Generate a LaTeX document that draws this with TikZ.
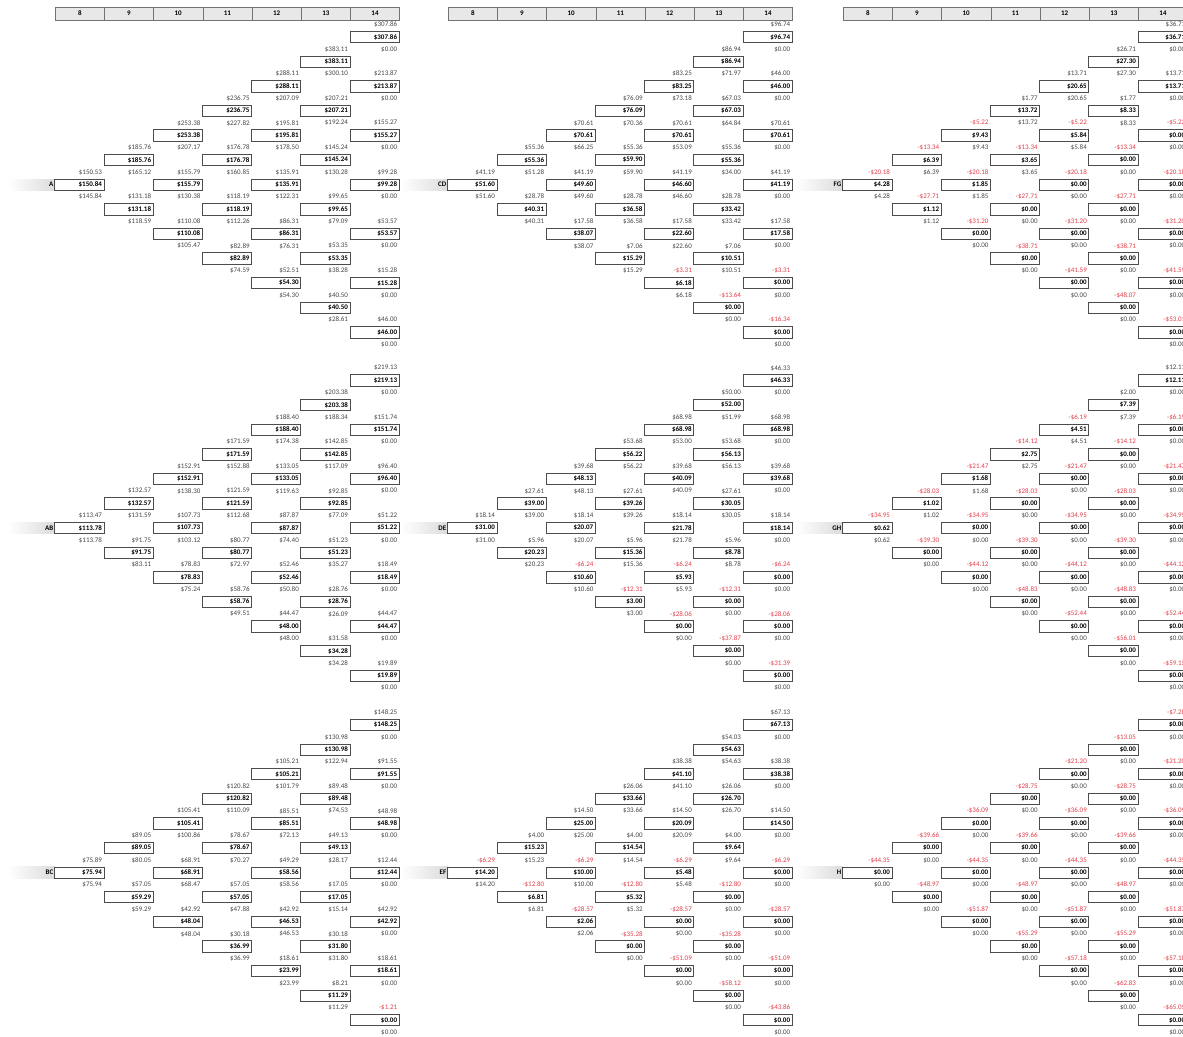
\documentclass[tikz,border=0pt]{standalone}
\usepackage{fontspec}
\setmainfont{Carlito}
\definecolor{negred}{RGB}{226,62,74}
\definecolor{txtgray}{RGB}{70,70,70}
\definecolor{hdrfill}{RGB}{232,232,232}
\tikzset{
 valbox/.style={draw=black!70, line width=0.7pt, anchor=east, minimum width=49.2pt, minimum height=11.3pt, inner xsep=2pt, inner ysep=0pt, text width=45.2pt, align=right, font=\fontsize{7}{7.5}\selectfont\bfseries},
 valtxt/.style={anchor=east, inner xsep=2pt, inner ysep=0pt, font=\fontsize{7}{7.5}\selectfont, text=txtgray},
 negtxt/.style={valtxt, text=negred},
 hdrcell/.style={draw=black!55, fill=hdrfill, minimum width=49.2pt, minimum height=13pt, inner sep=0pt, anchor=west, font=\fontsize{7}{7.5}\selectfont\bfseries},
 lbl/.style={anchor=east, inner sep=1.5pt, font=\fontsize{7}{7.5}\selectfont\bfseries}
}
\newcommand\PX{0}\newcommand\PY{0}\newcommand\PN{p}
\newcommand{\nd}[5]{%
 \pgfmathsetmacro\bx{\PX+(#1+1)*49.2}%
 \pgfmathsetmacro\by{\PY+(4*#2-2*#1)*12.3}%
 \node[valbox] (\PN#1#2) at (\bx,\by) {\$#4};
 \node[valtxt] (\PN#1#2t) at (\bx,\by-12.3) {\$#3};
 \node[valtxt] (\PN#1#2b) at (\bx,\by+12.3) {\$#5};}
\newcommand{\nr}[5]{%
 \pgfmathsetmacro\bx{\PX+(#1+1)*49.2}%
 \pgfmathsetmacro\by{\PY+(4*#2-2*#1)*12.3}%
 \node[valbox] (\PN#1#2) at (\bx,\by) {\$#4};
 \node[negtxt] (\PN#1#2t) at (\bx,\by-12.3) {-\$#3};
 \node[valtxt] (\PN#1#2b) at (\bx,\by+12.3) {\$#5};}
\newcommand{\nz}[3]{\nr{#1}{#2}{#3}{0.00}{0.00}}
\newcommand{\panel}[4]{% x0, y0, name, label
 \renewcommand\PX{#1}\renewcommand\PY{#2}\renewcommand\PN{#3}%
 \shade[left color=white, right color=black!14] (#1-47,#2-5.6) rectangle (#1,#2+5.6);
 \node[lbl] (lab#3) at (#1,#2) {#4};}
\newcommand{\header}[2]{% x0, name
 \foreach \i in {0,...,6}{%
  \pgfmathtruncatemacro\lab{8+\i}%
  \node[hdrcell] (hdr#2\i) at (#1+\i*49.2,13.5) {\lab};}}
\begin{document}
\begin{tikzpicture}[x=1pt,y=-1pt]
\useasboundingbox (0,0) rectangle (1183,1036);
\fill[white] (0,0) rectangle (1183,1036);
\header{55}{a}
\header{448}{d}
\header{843}{g}
% ---------------- Panel A
\panel{55}{184.6}{a}{A}
\nd{0}{0}{150.53}{150.84}{145.84}
\nd{1}{0}{185.76}{185.76}{165.12}
\nd{1}{1}{131.18}{131.18}{118.59}
\nd{2}{0}{253.38}{253.38}{207.17}
\nd{2}{1}{155.79}{155.79}{130.38}
\nd{2}{2}{110.08}{110.08}{105.47}
\nd{3}{0}{236.75}{236.75}{227.82}
\nd{3}{1}{176.78}{176.78}{160.85}
\nd{3}{2}{118.19}{118.19}{112.26}
\nd{3}{3}{82.89}{82.89}{74.59}
\nd{4}{0}{288.11}{288.11}{207.09}
\nd{4}{1}{195.81}{195.81}{178.50}
\nd{4}{2}{135.91}{135.91}{122.31}
\nd{4}{3}{86.31}{86.31}{76.31}
\nd{4}{4}{52.51}{54.30}{54.30}
\nd{5}{0}{383.11}{383.11}{300.10}
\nd{5}{1}{207.21}{207.21}{192.24}
\nd{5}{2}{145.24}{145.24}{130.28}
\nd{5}{3}{99.65}{99.65}{79.09}
\nd{5}{4}{53.35}{53.35}{38.28}
\nd{5}{5}{40.50}{40.50}{28.61}
\nd{6}{0}{307.86}{307.86}{0.00}
\nd{6}{1}{213.87}{213.87}{0.00}
\nd{6}{2}{155.27}{155.27}{0.00}
\nd{6}{3}{99.28}{99.28}{0.00}
\nd{6}{4}{53.57}{53.57}{0.00}
\nd{6}{5}{15.28}{15.28}{0.00}
\nd{6}{6}{46.00}{46.00}{0.00}
% ---------------- Panel AB
\panel{55}{528}{b}{AB}
\nd{0}{0}{113.47}{113.78}{113.78}
\nd{1}{0}{132.57}{132.57}{131.59}
\nd{1}{1}{91.75}{91.75}{83.11}
\nd{2}{0}{152.91}{152.91}{138.30}
\nd{2}{1}{107.73}{107.73}{103.12}
\nd{2}{2}{78.83}{78.83}{75.24}
\nd{3}{0}{171.59}{171.59}{152.88}
\nd{3}{1}{121.59}{121.59}{112.68}
\nd{3}{2}{80.77}{80.77}{72.97}
\nd{3}{3}{58.76}{58.76}{49.51}
\nd{4}{0}{188.40}{188.40}{174.38}
\nd{4}{1}{133.05}{133.05}{119.63}
\nd{4}{2}{87.87}{87.87}{74.40}
\nd{4}{3}{52.46}{52.46}{50.80}
\nd{4}{4}{44.47}{48.00}{48.00}
\nd{5}{0}{203.38}{203.38}{188.34}
\nd{5}{1}{142.85}{142.85}{117.09}
\nd{5}{2}{92.85}{92.85}{77.09}
\nd{5}{3}{51.23}{51.23}{35.27}
\nd{5}{4}{28.76}{28.76}{26.09}
\nd{5}{5}{31.58}{34.28}{34.28}
\nd{6}{0}{219.13}{219.13}{0.00}
\nd{6}{1}{151.74}{151.74}{0.00}
\nd{6}{2}{96.40}{96.40}{0.00}
\nd{6}{3}{51.22}{51.22}{0.00}
\nd{6}{4}{18.49}{18.49}{0.00}
\nd{6}{5}{44.47}{44.47}{0.00}
\nd{6}{6}{19.89}{19.89}{0.00}
% ---------------- Panel BC
\panel{55}{872.5}{c}{BC}
\nd{0}{0}{75.89}{75.94}{75.94}
\nd{1}{0}{89.05}{89.05}{80.05}
\nd{1}{1}{57.05}{59.29}{59.29}
\nd{2}{0}{105.41}{105.41}{100.86}
\nd{2}{1}{68.91}{68.91}{68.47}
\nd{2}{2}{42.92}{48.04}{48.04}
\nd{3}{0}{120.82}{120.82}{110.09}
\nd{3}{1}{78.67}{78.67}{70.27}
\nd{3}{2}{57.05}{57.05}{47.88}
\nd{3}{3}{30.18}{36.99}{36.99}
\nd{4}{0}{105.21}{105.21}{101.79}
\nd{4}{1}{85.51}{85.51}{72.13}
\nd{4}{2}{49.29}{58.56}{58.56}
\nd{4}{3}{42.92}{46.53}{46.53}
\nd{4}{4}{18.61}{23.99}{23.99}
\nd{5}{0}{130.98}{130.98}{122.94}
\nd{5}{1}{89.48}{89.48}{74.53}
\nd{5}{2}{49.13}{49.13}{28.17}
\nd{5}{3}{17.05}{17.05}{15.14}
\nd{5}{4}{30.18}{31.80}{31.80}
\nd{5}{5}{8.21}{11.29}{11.29}
\nd{6}{0}{148.25}{148.25}{0.00}
\nd{6}{1}{91.55}{91.55}{0.00}
\nd{6}{2}{48.98}{48.98}{0.00}
\nd{6}{3}{12.44}{12.44}{0.00}
\nd{6}{4}{42.92}{42.92}{0.00}
\nd{6}{5}{18.61}{18.61}{0.00}
\nr{6}{6}{1.21}{0.00}{0.00}
% ---------------- Panel CD
\panel{448}{184.6}{d}{CD}
\nd{0}{0}{41.19}{51.60}{51.60}
\nd{1}{0}{55.36}{55.36}{51.28}
\nd{1}{1}{28.78}{40.31}{40.31}
\nd{2}{0}{70.61}{70.61}{66.25}
\nd{2}{1}{41.19}{49.60}{49.60}
\nd{2}{2}{17.58}{38.07}{38.07}
\nd{3}{0}{76.09}{76.09}{70.36}
\nd{3}{1}{55.36}{59.90}{59.90}
\nd{3}{2}{28.78}{36.58}{36.58}
\nd{3}{3}{7.06}{15.29}{15.29}
\nd{4}{0}{83.25}{83.25}{73.18}
\nd{4}{1}{70.61}{70.61}{53.09}
\nd{4}{2}{41.19}{46.60}{46.60}
\nd{4}{3}{17.58}{22.60}{22.60}
\nr{4}{4}{3.31}{6.18}{6.18}
\nd{5}{0}{86.94}{86.94}{71.97}
\nd{5}{1}{67.03}{67.03}{64.84}
\nd{5}{2}{55.36}{55.36}{34.00}
\nd{5}{3}{28.78}{33.42}{33.42}
\nd{5}{4}{7.06}{10.51}{10.51}
\nz{5}{5}{13.64}
\nd{6}{0}{96.74}{96.74}{0.00}
\nd{6}{1}{46.00}{46.00}{0.00}
\nd{6}{2}{70.61}{70.61}{0.00}
\nd{6}{3}{41.19}{41.19}{0.00}
\nd{6}{4}{17.58}{17.58}{0.00}
\nz{6}{5}{3.31}
\nz{6}{6}{16.34}
% ---------------- Panel DE
\panel{448}{528}{e}{DE}
\nd{0}{0}{18.14}{31.00}{31.00}
\nd{1}{0}{27.61}{39.00}{39.00}
\nd{1}{1}{5.96}{20.23}{20.23}
\nd{2}{0}{39.68}{48.13}{48.13}
\nd{2}{1}{18.14}{20.07}{20.07}
\nr{2}{2}{6.24}{10.60}{10.60}
\nd{3}{0}{53.68}{56.22}{56.22}
\nd{3}{1}{27.61}{39.26}{39.26}
\nd{3}{2}{5.96}{15.36}{15.36}
\nr{3}{3}{12.31}{3.00}{3.00}
\nd{4}{0}{68.98}{68.98}{53.00}
\nd{4}{1}{39.68}{40.09}{40.09}
\nd{4}{2}{18.14}{21.78}{21.78}
\nr{4}{3}{6.24}{5.93}{5.93}
\nz{4}{4}{28.06}
\nd{5}{0}{50.00}{52.00}{51.99}
\nd{5}{1}{53.68}{56.13}{56.13}
\nd{5}{2}{27.61}{30.05}{30.05}
\nd{5}{3}{5.96}{8.78}{8.78}
\nz{5}{4}{12.31}
\nz{5}{5}{37.87}
\nd{6}{0}{46.33}{46.33}{0.00}
\nd{6}{1}{68.98}{68.98}{0.00}
\nd{6}{2}{39.68}{39.68}{0.00}
\nd{6}{3}{18.14}{18.14}{0.00}
\nz{6}{4}{6.24}
\nz{6}{5}{28.06}
\nz{6}{6}{31.39}
% ---------------- Panel EF
\panel{448}{872.5}{f}{EF}
\nr{0}{0}{6.29}{14.20}{14.20}
\nd{1}{0}{4.00}{15.23}{15.23}
\nr{1}{1}{12.80}{6.81}{6.81}
\nd{2}{0}{14.50}{25.00}{25.00}
\nr{2}{1}{6.29}{10.00}{10.00}
\nr{2}{2}{28.57}{2.06}{2.06}
\nd{3}{0}{26.06}{33.66}{33.66}
\nd{3}{1}{4.00}{14.54}{14.54}
\nr{3}{2}{12.80}{5.32}{5.32}
\nz{3}{3}{35.28}
\nd{4}{0}{38.38}{41.10}{41.10}
\nd{4}{1}{14.50}{20.09}{20.09}
\nr{4}{2}{6.29}{5.48}{5.48}
\nz{4}{3}{28.57}
\nz{4}{4}{51.09}
\nd{5}{0}{54.03}{54.63}{54.63}
\nd{5}{1}{26.06}{26.70}{26.70}
\nd{5}{2}{4.00}{9.64}{9.64}
\nz{5}{3}{12.80}
\nz{5}{4}{35.28}
\nz{5}{5}{58.12}
\nd{6}{0}{67.13}{67.13}{0.00}
\nd{6}{1}{38.38}{38.38}{0.00}
\nd{6}{2}{14.50}{14.50}{0.00}
\nz{6}{3}{6.29}
\nz{6}{4}{28.57}
\nz{6}{5}{51.09}
\nz{6}{6}{43.86}
% ---------------- Panel FG
\panel{843}{184.6}{g}{FG}
\nr{0}{0}{20.18}{4.28}{4.28}
\nr{1}{0}{13.34}{6.39}{6.39}
\nr{1}{1}{27.71}{1.12}{1.12}
\nr{2}{0}{5.22}{9.43}{9.43}
\nr{2}{1}{20.18}{1.85}{1.85}
\nz{2}{2}{31.20}
\nd{3}{0}{1.77}{13.72}{13.72}
\nr{3}{1}{13.34}{3.65}{3.65}
\nz{3}{2}{27.71}
\nz{3}{3}{38.71}
\nd{4}{0}{13.71}{20.65}{20.65}
\nr{4}{1}{5.22}{5.84}{5.84}
\nz{4}{2}{20.18}
\nz{4}{3}{31.20}
\nz{4}{4}{41.59}
\nd{5}{0}{26.71}{27.30}{27.30}
\nd{5}{1}{1.77}{8.33}{8.33}
\nz{5}{2}{13.34}
\nz{5}{3}{27.71}
\nz{5}{4}{38.71}
\nz{5}{5}{48.07}
\nd{6}{0}{36.71}{36.71}{0.00}
\nd{6}{1}{13.71}{13.71}{0.00}
\nz{6}{2}{5.22}
\nz{6}{3}{20.18}
\nz{6}{4}{31.20}
\nz{6}{5}{41.59}
\nz{6}{6}{53.01}
% ---------------- Panel GH
\panel{843}{528}{h}{GH}
\nr{0}{0}{34.95}{0.62}{0.62}
\nr{1}{0}{28.03}{1.02}{1.02}
\nz{1}{1}{39.30}
\nr{2}{0}{21.47}{1.68}{1.68}
\nz{2}{1}{34.95}
\nz{2}{2}{44.12}
\nr{3}{0}{14.12}{2.75}{2.75}
\nz{3}{1}{28.03}
\nz{3}{2}{39.30}
\nz{3}{3}{48.83}
\nr{4}{0}{6.19}{4.51}{4.51}
\nz{4}{1}{21.47}
\nz{4}{2}{34.95}
\nz{4}{3}{44.12}
\nz{4}{4}{52.44}
\nd{5}{0}{2.00}{7.39}{7.39}
\nz{5}{1}{14.12}
\nz{5}{2}{28.03}
\nz{5}{3}{39.30}
\nz{5}{4}{48.83}
\nz{5}{5}{56.01}
\nd{6}{0}{12.11}{12.11}{0.00}
\nz{6}{1}{6.19}
\nz{6}{2}{21.47}
\nz{6}{3}{34.95}
\nz{6}{4}{44.12}
\nz{6}{5}{52.44}
\nz{6}{6}{59.15}
% ---------------- Panel H
\panel{843}{872.5}{i}{H}
\nz{0}{0}{44.35}
\nz{1}{0}{39.66}
\nz{1}{1}{48.97}
\nz{2}{0}{36.09}
\nz{2}{1}{44.35}
\nz{2}{2}{51.87}
\nz{3}{0}{28.75}
\nz{3}{1}{39.66}
\nz{3}{2}{48.97}
\nz{3}{3}{55.29}
\nz{4}{0}{21.20}
\nz{4}{1}{36.09}
\nz{4}{2}{44.35}
\nz{4}{3}{51.87}
\nz{4}{4}{57.18}
\nz{5}{0}{13.05}
\nz{5}{1}{28.75}
\nz{5}{2}{39.66}
\nz{5}{3}{48.97}
\nz{5}{4}{55.29}
\nz{5}{5}{62.83}
\nz{6}{0}{7.28}
\nz{6}{1}{21.20}
\nz{6}{2}{36.09}
\nz{6}{3}{44.35}
\nz{6}{4}{51.87}
\nz{6}{5}{57.18}
\nz{6}{6}{65.05}
\end{tikzpicture}
\end{document}
